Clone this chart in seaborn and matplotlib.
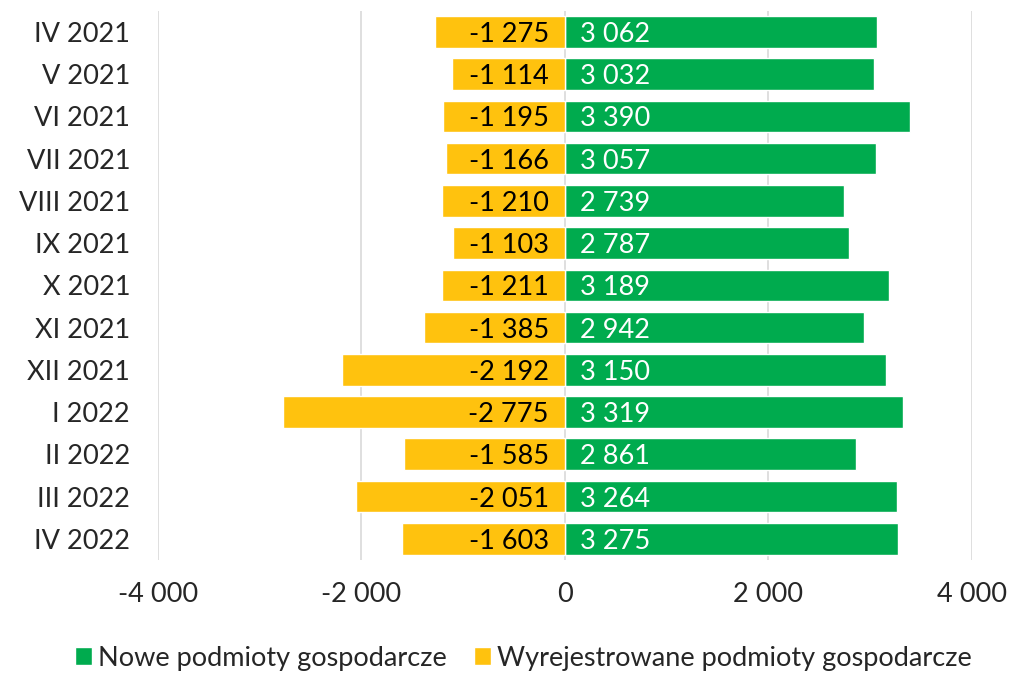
import numpy as np
import matplotlib
matplotlib.use('Agg')
import matplotlib.pyplot as plt
import seaborn as sns

# data
months = ['IV 2021', 'V 2021', 'VI 2021', 'VII 2021', 'VIII 2021', 'IX 2021', 'X 2021',
          'XI 2021', 'XII 2021', 'I 2022', 'II 2022', 'III 2022', 'IV 2022']
nowe = [3062, 3032, 3390, 3057, 2739, 2787, 3189, 2942, 3150, 3319, 2861, 3264, 3275]
wyrej = [-1275, -1114, -1195, -1166, -1210, -1103, -1211, -1385, -2192, -2775, -1585, -2051, -1603]
xticks = [-4000, -2000, 0, 2000, 4000]

green = '#00AB4E'
yellow = '#FFC20E'

sns.set_theme(style='white')
plt.rcParams['font.family'] = ['Lato', 'DejaVu Sans']
fs = 19.5

def fmt(v):
    return f'{v:,}'.replace(',', ' ')

fig = plt.figure(figsize=(10.12, 6.73), dpi=100)
ax = fig.add_axes([0.156, 0.168, 0.8045, 0.816])

sns.barplot(x=nowe, y=months, color=green, orient='h', width=0.75, ax=ax,
            label='Nowe podmioty gospodarcze', saturation=1)
sns.barplot(x=wyrej, y=months, color=yellow, orient='h', width=0.75, ax=ax,
            label='Wyrejestrowane podmioty gospodarcze', saturation=1)

for i, (p, n) in enumerate(zip(nowe, wyrej)):
    ax.text(145, i, fmt(p), color='white', ha='left', va='center_baseline', fontsize=fs)
    ax.text(-160, i, fmt(n), color='black', ha='right', va='center_baseline', fontsize=fs)

ax.set_xlim(-4000, 4000)
ax.set_xticks(xticks)
ax.set_xticklabels([fmt(t) for t in xticks])
ax.xaxis.grid(True, color='#d9d9d9', linewidth=1.2)
ax.set_axisbelow(True)
for s in ax.spines.values():
    s.set_visible(False)
ax.tick_params(axis='y', length=0, pad=20, labelsize=fs)
ax.tick_params(axis='x', length=0, pad=16, labelsize=fs)
ax.set_xlabel('')
ax.set_ylabel('')

ax.legend_.remove() if ax.legend_ else None
h, l = ax.get_legend_handles_labels()
fig.legend(h, l, loc='center', bbox_to_anchor=(0.517, 0.022), ncol=2, frameon=False,
           fontsize=fs, handlelength=0.65, handleheight=0.65, handletextpad=0.2,
           columnspacing=1.0)

fig.savefig('out.png', dpi=100)
